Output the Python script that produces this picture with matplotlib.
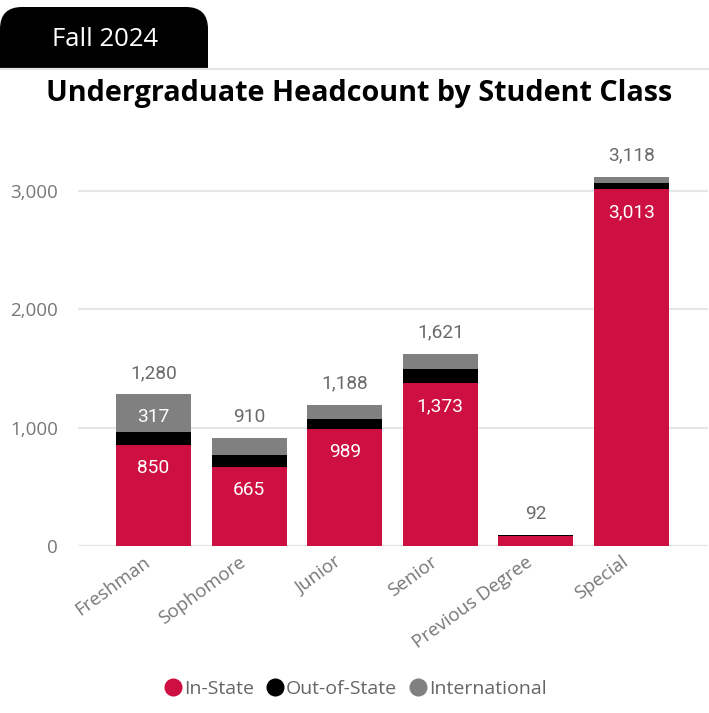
import matplotlib
matplotlib.use("Agg")
import matplotlib.pyplot as plt
from matplotlib.patches import FancyBboxPatch, Rectangle
from matplotlib.lines import Line2D
from matplotlib.ticker import FuncFormatter, FixedLocator

# ---- data ----
categories = ["Freshman", "Sophomore", "Junior", "Senior", "Previous Degree", "Special"]
in_state = [850, 665, 989, 1373, 86, 3013]
out_of_state = [113, 105, 85, 120, 5, 50]
international = [317, 140, 114, 128, 1, 55]
totals = [1280, 910, 1188, 1621, 92, 3118]
series_names = ["In-State", "Out-of-State", "International"]
yticks = [0, 1000, 2000, 3000]

# ---- style ----
RED = "#CD1041"
BLACK = "#000000"
GRAY = "#808080"
colors = [RED, BLACK, GRAY]
W, H = 709, 713
DPI = 100

fig = plt.figure(figsize=(W / DPI, H / DPI), dpi=DPI)

# decoration axes in pixel units
deco = fig.add_axes([0, 0, 1, 1], zorder=0)
deco.set_xlim(0, W)
deco.set_ylim(H, 0)
deco.axis("off")
deco.add_patch(FancyBboxPatch((0, 7), 208, 100, boxstyle="round,pad=0,rounding_size=22",
                              fc="black", ec="none", zorder=1))
deco.add_patch(Rectangle((0, 69), W, 60, fc="white", ec="none", zorder=2))
deco.plot([0, W], [68.8, 68.8], color="#e4e4e4", lw=1.6, zorder=3)
deco.text(105, 40, "Fall 2024", color="white", fontsize=18.5, family="Open Sans",
          ha="center", va="center", zorder=4)
deco.text(359, 93, "Undergraduate Headcount by Student Class", color="black",
          fontsize=20.7, family="Open Sans", fontweight="bold",
          ha="center", va="center", zorder=4)

# main axes
px_per_unit = (546 - 190.7) / 3000
ymax = 3400
top_px = 546 - ymax * px_per_unit
ax = fig.add_axes([78 / W, (H - 546) / H, (708 - 78) / W, (546 - top_px) / H], zorder=5)
ax.patch.set_alpha(0)

x = list(range(len(categories)))
bw = 0.785
bottoms = [0] * len(x)
segs = [in_state, out_of_state, international]
for vals, c, name in zip(segs, colors, series_names):
    bars = ax.bar(x, vals, width=bw, bottom=bottoms, color=c, label=name, zorder=3)
    for xi, v, b in zip(x, vals, bottoms):
        if v >= 250:
            ax.annotate(f"{v:,}", xy=(xi, b + v), xytext=(0, -16.5), textcoords="offset points",
                        ha="center", va="center", color="white", fontsize=13.8,
                        family="Roboto", zorder=6)
    bottoms = [b + v for b, v in zip(bottoms, vals)]

for xi, t in zip(x, totals):
    ax.annotate(f"{t:,}", xy=(xi, t), xytext=(0, 15.5), textcoords="offset points",
                ha="center", va="center", color="#6b6b6b", fontsize=13.8,
                family="Roboto", zorder=6)

ax.set_xlim(-0.79, 5.80)
ax.set_ylim(0, ymax)
ax.yaxis.set_major_locator(FixedLocator(yticks))
ax.yaxis.set_major_formatter(FuncFormatter(lambda v, p: f"{int(v):,}"))
ax.grid(axis="y", color="#e6e6e6", lw=1.5, zorder=0)
for s in ax.spines.values():
    s.set_visible(False)
ax.tick_params(axis="y", length=0, pad=14.4, labelsize=13.5, labelcolor="#777777")
ax.tick_params(axis="x", length=0, pad=5, labelsize=13.5, labelcolor="#777777")
for lab in ax.get_yticklabels():
    lab.set_family("Open Sans")
ax.set_xticks(x)
ax.set_xticklabels(categories, rotation=36, ha="right", family="Open Sans")

handles = [Line2D([0], [0], marker="o", color="none", markerfacecolor=c, markeredgecolor="none",
                  markersize=13) for c in colors]
leg = fig.legend(handles, series_names, loc="center", bbox_to_anchor=(355.5 / W, (H - 689) / H),
                 ncol=3, frameon=False, handlelength=0.85, handletextpad=0.15, columnspacing=0.65,
                 prop={"family": "Open Sans", "size": 14})
for t in leg.get_texts():
    t.set_color("#666666")

fig.savefig("out.png", dpi=DPI)
